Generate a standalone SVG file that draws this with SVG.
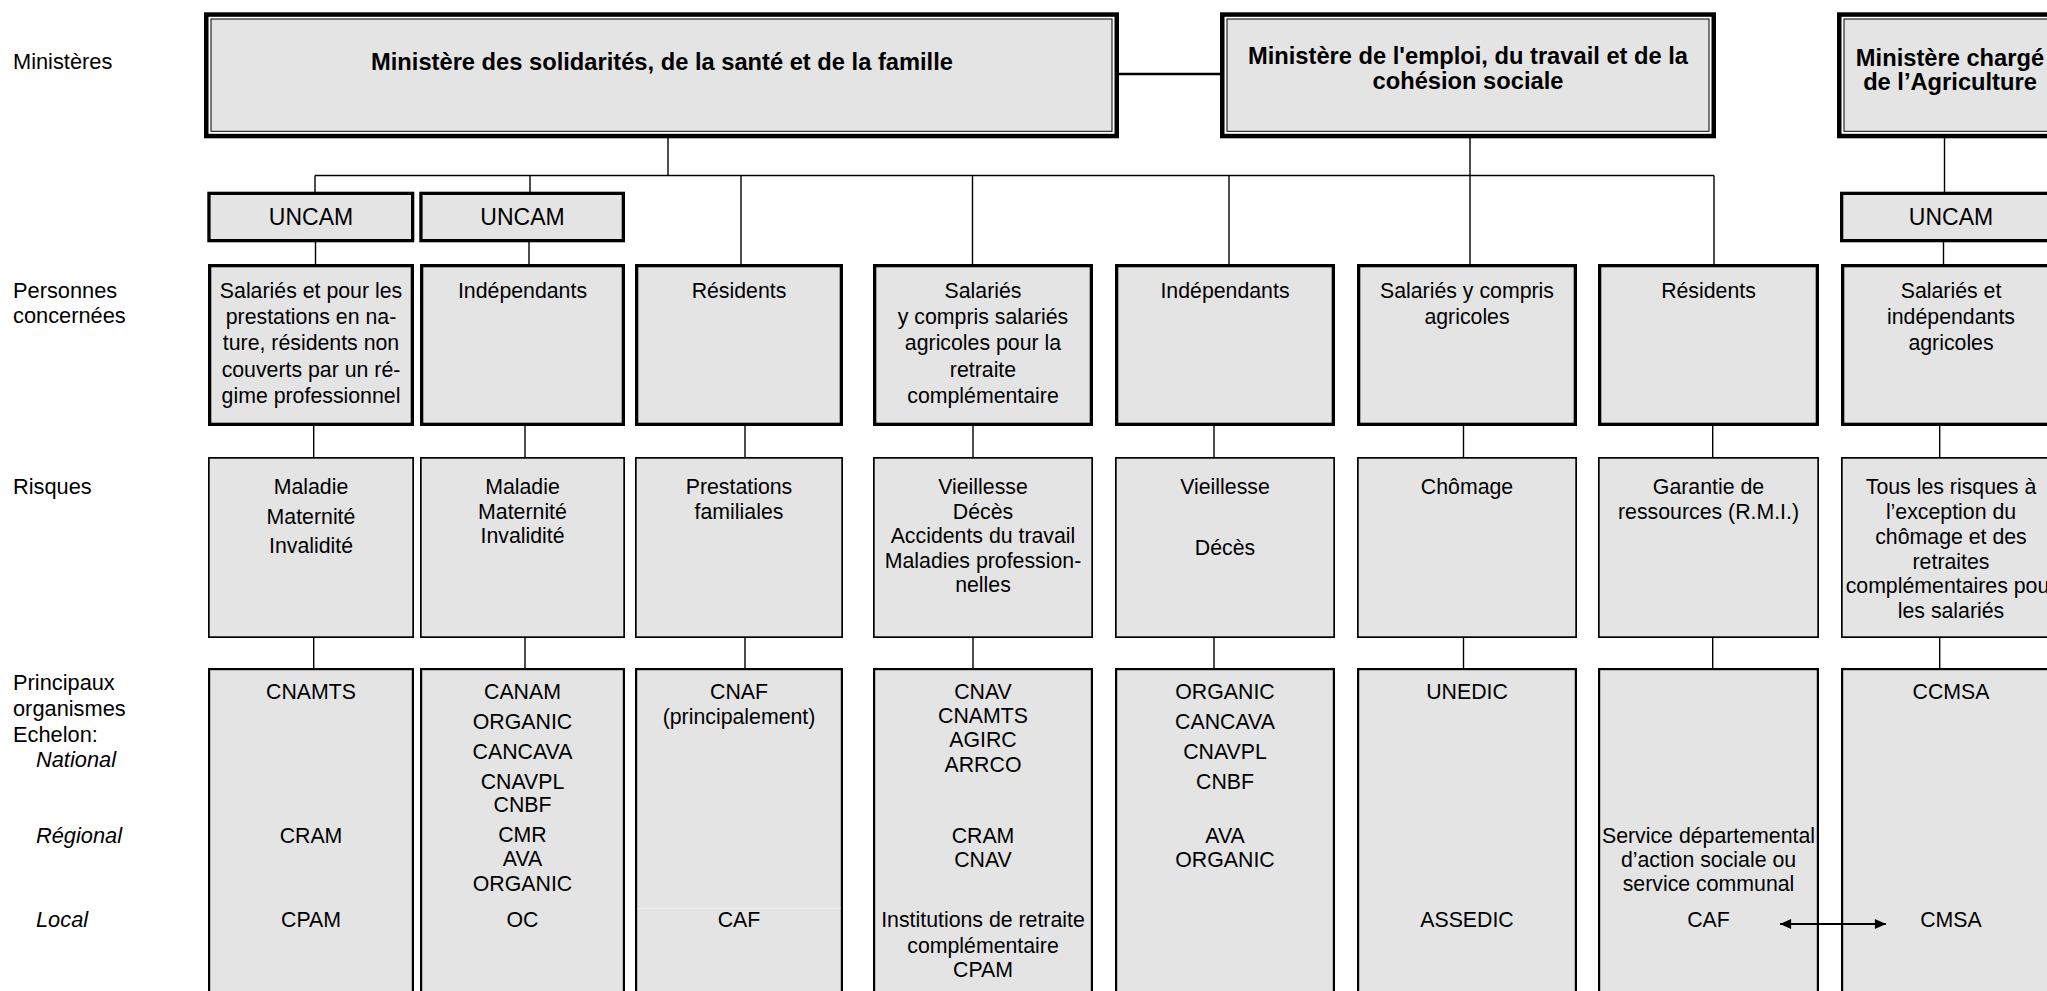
<svg xmlns="http://www.w3.org/2000/svg" width="2047" height="991" viewBox="0 0 2047 991">
<style>
text{font-family:"Liberation Sans",Arial,Helvetica,sans-serif;fill:#000}
.t{font-size:21.3px;text-anchor:middle}
.l{font-size:21.8px}
.i{font-style:italic}
.b{font-weight:bold;font-size:23.7px;text-anchor:middle}
.u{font-size:23px;text-anchor:middle}
.outer{fill:#fff;stroke:#000;stroke-width:4.5}
.inner{fill:#e4e4e4;stroke:#000;stroke-width:1}
.bp{fill:#e4e4e4;stroke:#000;stroke-width:3.3}
.br{fill:#e4e4e4;stroke:#000;stroke-width:1.7}
.bo{fill:#e4e4e4;stroke:#000;stroke-width:2.2}
.c line,.c path{stroke:#000;stroke-width:1.4;fill:none}
.c .thick{stroke-width:2.6}
.c .arr{stroke-width:1.8}
</style>
<defs>
<marker id="ah" viewBox="0 0 10 9" refX="10" refY="4.5" markerWidth="12" markerHeight="10" markerUnits="userSpaceOnUse" orient="auto-start-reverse">
<path d="M0,0 L10,4.5 L0,9 Z" fill="#000"/>
</marker>
</defs>
<rect width="2047" height="991" fill="#fff"/>

<g id="labels">
<text class="l" x="13" y="69">Ministères</text>
<text class="l" x="13" y="297.7">Personnes</text>
<text class="l" x="13" y="323.3">concernées</text>
<text class="l" x="13" y="494">Risques</text>
<text class="l" x="13" y="690">Principaux</text>
<text class="l" x="13" y="716">organismes</text>
<text class="l" x="13" y="741.7">Echelon:</text>
<text class="l i" x="36" y="767.3">National</text>
<text class="l i" x="36" y="842.7">Régional</text>
<text class="l i" x="36" y="927.3">Local</text>
</g>

<g class="c" id="connectors">
<line class="thick" x1="1119" y1="74" x2="1220" y2="74"/>
<line x1="668" y1="138" x2="668" y2="175.5"/>
<line x1="315" y1="175.5" x2="1714" y2="175.5"/>
<line x1="315" y1="175.5" x2="315" y2="192"/>
<line x1="530" y1="175.5" x2="530" y2="192"/>
<line x1="741" y1="175.5" x2="741" y2="264"/>
<line x1="972.5" y1="175.5" x2="972.5" y2="264"/>
<line x1="1229" y1="175.5" x2="1229" y2="264"/>
<line x1="1714" y1="175.5" x2="1714" y2="264"/>
<line x1="1470" y1="138" x2="1470" y2="264"/>
<line x1="1944.5" y1="138" x2="1944.5" y2="192"/>
<line x1="315.5" y1="242" x2="315.5" y2="264"/>
<line x1="529" y1="242" x2="529" y2="264"/>
<line x1="1943.5" y1="242" x2="1943.5" y2="264"/>
<line x1="313.7" y1="426" x2="313.7" y2="457"/>
<line x1="525" y1="426" x2="525" y2="457"/>
<line x1="745" y1="426" x2="745" y2="457"/>
<line x1="973" y1="426" x2="973" y2="457"/>
<line x1="1214" y1="426" x2="1214" y2="457"/>
<line x1="1463.5" y1="426" x2="1463.5" y2="457"/>
<line x1="1712.7" y1="426" x2="1712.7" y2="457"/>
<line x1="1939.7" y1="426" x2="1939.7" y2="457"/>
<line x1="313.7" y1="638" x2="313.7" y2="668"/>
<line x1="525" y1="638" x2="525" y2="668"/>
<line x1="745" y1="638" x2="745" y2="668"/>
<line x1="973" y1="638" x2="973" y2="668"/>
<line x1="1214" y1="638" x2="1214" y2="668"/>
<line x1="1463.5" y1="638" x2="1463.5" y2="668"/>
<line x1="1712.7" y1="638" x2="1712.7" y2="668"/>
<line x1="1939.7" y1="638" x2="1939.7" y2="668"/>
</g>

<g id="m1">
<rect class="outer" x="206.25" y="14.55" width="910.5" height="121.5"/>
<rect class="inner" x="211" y="19" width="901" height="112.3"/>
<text class="b" x="662" y="70">Ministère des solidarités, de la santé et de la famille</text>
</g>
<g id="m2">
<rect class="outer" x="1222.25" y="14.55" width="491.5" height="121.5"/>
<rect class="inner" x="1227" y="19" width="482" height="112.3"/>
<text class="b" x="1468" y="64">Ministère de l'emploi, du travail et de la</text>
<text class="b" x="1468" y="89">cohésion sociale</text>
</g>
<g id="m3">
<rect class="outer" x="1839.25" y="14.55" width="222.5" height="121.5"/>
<rect class="inner" x="1844" y="19" width="213" height="112.3"/>
<text class="b" x="1950" y="66">Ministère chargé</text>
<text class="b" x="1950" y="90">de l’Agriculture</text>
</g>

<g id="uncam1">
<rect class="bp" x="208.95" y="193.35" width="203.7" height="47.3"/>
<text class="u" x="311" y="225">UNCAM</text>
</g>
<g id="uncam2">
<rect class="bp" x="420.95" y="193.35" width="202.4" height="47.3"/>
<text class="u" x="522.5" y="225">UNCAM</text>
</g>
<g id="uncam3">
<rect class="bp" x="1841.65" y="193.35" width="216.7" height="47.3"/>
<text class="u" x="1951" y="225">UNCAM</text>
</g>

<g id="pers1">
<rect class="bp" x="209.65" y="265.65" width="202.7" height="158.7"/>
<text class="t" x="311" y="298.3">Salariés et pour les</text>
<text class="t" x="311" y="324.3">prestations en na-</text>
<text class="t" x="311" y="350.3">ture, résidents non</text>
<text class="t" x="311" y="376.7">couverts par un ré-</text>
<text class="t" x="311" y="402.7">gime professionnel</text>
</g>
<g id="pers2">
<rect class="bp" x="421.65" y="265.65" width="201.7" height="158.7"/>
<text class="t" x="522.5" y="298.3">Indépendants</text>
</g>
<g id="pers3">
<rect class="bp" x="636.65" y="265.65" width="204.7" height="158.7"/>
<text class="t" x="739" y="298.3">Résidents</text>
</g>
<g id="pers4">
<rect class="bp" x="874.65" y="265.65" width="216.7" height="158.7"/>
<text class="t" x="983" y="298.3">Salariés</text>
<text class="t" x="983" y="324.3">y compris salariés</text>
<text class="t" x="983" y="350.3">agricoles pour la</text>
<text class="t" x="983" y="376.7">retraite</text>
<text class="t" x="983" y="402.7">complémentaire</text>
</g>
<g id="pers5">
<rect class="bp" x="1116.65" y="265.65" width="216.7" height="158.7"/>
<text class="t" x="1225" y="298.3">Indépendants</text>
</g>
<g id="pers6">
<rect class="bp" x="1358.65" y="265.65" width="216.7" height="158.7"/>
<text class="t" x="1467" y="298.3">Salariés y compris</text>
<text class="t" x="1467" y="324.3">agricoles</text>
</g>
<g id="pers7">
<rect class="bp" x="1599.65" y="265.65" width="217.7" height="158.7"/>
<text class="t" x="1708.5" y="298.3">Résidents</text>
</g>
<g id="pers8">
<rect class="bp" x="1842.65" y="265.65" width="216.7" height="158.7"/>
<text class="t" x="1951" y="298.3">Salariés et</text>
<text class="t" x="1951" y="324.3">indépendants</text>
<text class="t" x="1951" y="350.3">agricoles</text>
</g>

<g id="risk1">
<rect class="br" x="208.85" y="457.85" width="204.3" height="179.3"/>
<text class="t" x="311" y="494">Maladie</text>
<text class="t" x="311" y="523.5">Maternité</text>
<text class="t" x="311" y="552.5">Invalidité</text>
</g>
<g id="risk2">
<rect class="br" x="420.85" y="457.85" width="203.3" height="179.3"/>
<text class="t" x="522.5" y="494">Maladie</text>
<text class="t" x="522.5" y="518.5">Maternité</text>
<text class="t" x="522.5" y="543">Invalidité</text>
</g>
<g id="risk3">
<rect class="br" x="635.85" y="457.85" width="206.3" height="179.3"/>
<text class="t" x="739" y="494">Prestations</text>
<text class="t" x="739" y="518.5">familiales</text>
</g>
<g id="risk4">
<rect class="br" x="873.85" y="457.85" width="218.3" height="179.3"/>
<text class="t" x="983" y="494">Vieillesse</text>
<text class="t" x="983" y="518.5">Décès</text>
<text class="t" x="983" y="543">Accidents du travail</text>
<text class="t" x="983" y="567.5">Maladies profession-</text>
<text class="t" x="983" y="592">nelles</text>
</g>
<g id="risk5">
<rect class="br" x="1115.85" y="457.85" width="218.3" height="179.3"/>
<text class="t" x="1225" y="494">Vieillesse</text>
<text class="t" x="1225" y="555">Décès</text>
</g>
<g id="risk6">
<rect class="br" x="1357.85" y="457.85" width="218.3" height="179.3"/>
<text class="t" x="1467" y="494">Chômage</text>
</g>
<g id="risk7">
<rect class="br" x="1598.85" y="457.85" width="219.3" height="179.3"/>
<text class="t" x="1708.5" y="494">Garantie de</text>
<text class="t" x="1708.5" y="519">ressources (R.M.I.)</text>
</g>
<g id="risk8">
<rect class="br" x="1841.85" y="457.85" width="218.3" height="179.3"/>
<text class="t" x="1951" y="494">Tous les risques à</text>
<text class="t" x="1951" y="519">l’exception du</text>
<text class="t" x="1951" y="544">chômage et des</text>
<text class="t" x="1951" y="568.5">retraites</text>
<text class="t" x="1951" y="593">complémentaires pour</text>
<text class="t" x="1951" y="617.5">les salariés</text>
</g>

<g id="org1">
<rect class="bo" x="209.1" y="669.1" width="203.8" height="340"/>
<text class="t" x="311" y="699.3">CNAMTS</text>
<text class="t" x="311" y="842.7">CRAM</text>
<text class="t" x="311" y="927.3">CPAM</text>
</g>
<g id="org2">
<rect class="bo" x="421.1" y="669.1" width="202.8" height="340"/>
<text class="t" x="522.5" y="699.3">CANAM</text>
<text class="t" x="522.5" y="729">ORGANIC</text>
<text class="t" x="522.5" y="758.5">CANCAVA</text>
<text class="t" x="522.5" y="788.5">CNAVPL</text>
<text class="t" x="522.5" y="811.5">CNBF</text>
<text class="t" x="522.5" y="842.2">CMR</text>
<text class="t" x="522.5" y="866">AVA</text>
<text class="t" x="522.5" y="890.7">ORGANIC</text>
<text class="t" x="522.5" y="927.3">OC</text>
</g>
<g id="org3">
<rect class="bo" x="636.1" y="669.1" width="205.8" height="340"/>
<line x1="637.5" y1="908.3" x2="840.5" y2="908.3" stroke="#f2f2f2" stroke-width="1.2"/>
<text class="t" x="739" y="699.3">CNAF</text>
<text class="t" x="739" y="723.7">(principalement)</text>
<text class="t" x="739" y="927.3">CAF</text>
</g>
<g id="org4">
<rect class="bo" x="874.1" y="669.1" width="217.8" height="340"/>
<text class="t" x="983" y="699.3">CNAV</text>
<text class="t" x="983" y="723.3">CNAMTS</text>
<text class="t" x="983" y="747.3">AGIRC</text>
<text class="t" x="983" y="772.3">ARRCO</text>
<text class="t" x="983" y="842.7">CRAM</text>
<text class="t" x="983" y="866.7">CNAV</text>
<text class="t" x="983" y="927.3">Institutions de retraite</text>
<text class="t" x="983" y="952.5">complémentaire</text>
<text class="t" x="983" y="977.3">CPAM</text>
</g>
<g id="org5">
<rect class="bo" x="1116.1" y="669.1" width="217.8" height="340"/>
<text class="t" x="1225" y="699.3">ORGANIC</text>
<text class="t" x="1225" y="729.3">CANCAVA</text>
<text class="t" x="1225" y="758.7">CNAVPL</text>
<text class="t" x="1225" y="788.7">CNBF</text>
<text class="t" x="1225" y="842.7">AVA</text>
<text class="t" x="1225" y="866.7">ORGANIC</text>
</g>
<g id="org6">
<rect class="bo" x="1358.1" y="669.1" width="217.8" height="340"/>
<text class="t" x="1467" y="699.3">UNEDIC</text>
<text class="t" x="1467" y="927.3">ASSEDIC</text>
</g>
<g id="org7">
<rect class="bo" x="1599.1" y="669.1" width="218.8" height="340"/>
<text class="t" x="1708.5" y="842.7">Service départemental</text>
<text class="t" x="1708.5" y="866.7">d’action sociale ou</text>
<text class="t" x="1708.5" y="890.7">service communal</text>
<text class="t" x="1708.5" y="927.3">CAF</text>
</g>
<g id="org8">
<rect class="bo" x="1842.1" y="669.1" width="217.8" height="340"/>
<text class="t" x="1951" y="699.3">CCMSA</text>
<text class="t" x="1951" y="927.3">CMSA</text>
</g>

<g class="c" id="arrow">
<line class="arr" x1="1780" y1="924" x2="1886" y2="924" marker-start="url(#ah)" marker-end="url(#ah)"/>
</g>
</svg>
